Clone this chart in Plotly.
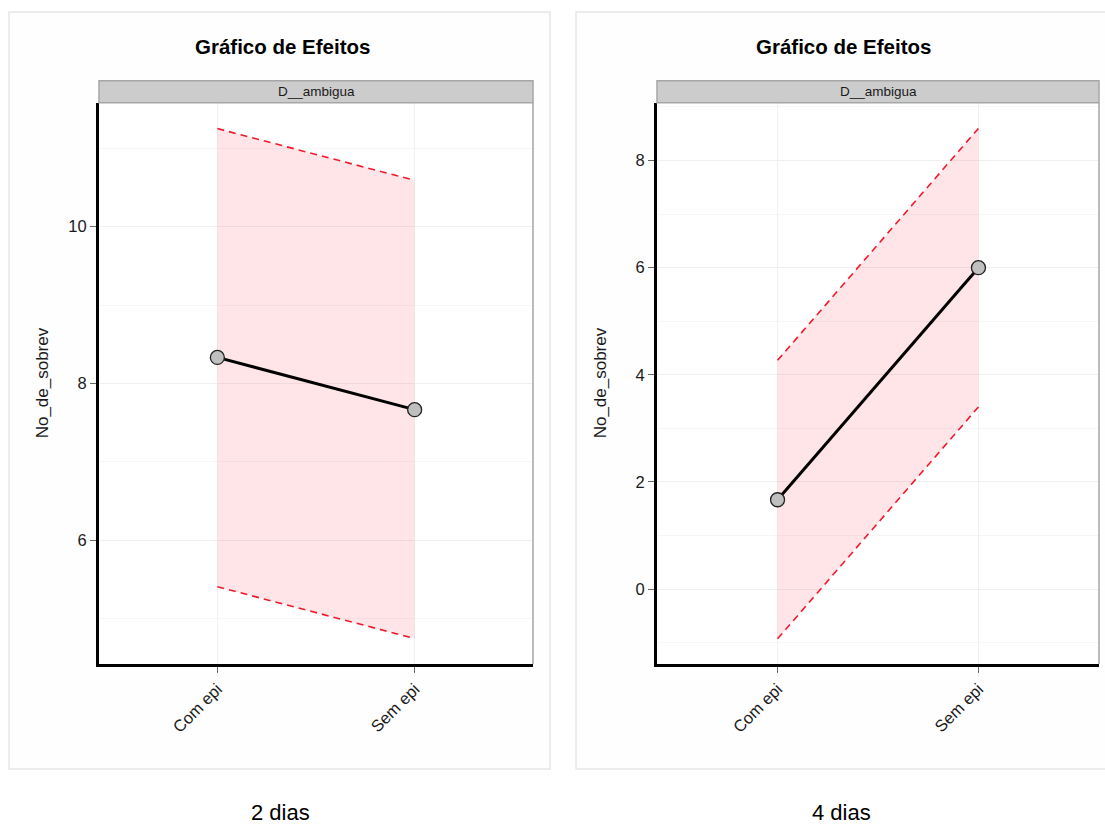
import plotly.graph_objects as go

# Effect estimates with confidence bands for each period
categories = ["Com epi", "Sem epi"]

fit_2dias = [8.333, 7.667]
lower_2dias = [5.41, 4.75]
upper_2dias = [11.25, 10.59]

fit_4dias = [1.667, 6.0]
lower_4dias = [-0.93, 3.40]
upper_4dias = [4.27, 8.60]

panel_titles = ["Gráfico de Efeitos", "Gráfico de Efeitos"]
strip_labels = ["D__ambigua", "D__ambigua"]
captions = ["2 dias", "4 dias"]
y_title = "No_de_sobrev"

W, H = 1105, 830
FONT = "Liberation Sans, Arial, sans-serif"


def fx(x):
    return x / W


def fy(y):
    return 1 - y / H


PLOT_TOP, PLOT_BOTTOM = 102.7, 664.0
STRIP_TOP = 80.7

panels = [
    dict(x0=99, x1=533, frame=(9, 550), yrange=[4.425, 11.58],
         fit=fit_2dias, lo=lower_2dias, hi=upper_2dias),
    dict(x0=657, x1=1099, frame=(576, 1115), yrange=[-1.40, 9.08],
         fit=fit_4dias, lo=lower_4dias, hi=upper_4dias),
]

fig = go.Figure()
shapes = []
annotations = []


def label(text, x, y, size, color="#1a1a1a", angle=0):
    return dict(text=text, xref="paper", yref="paper", x=x, y=y,
                xanchor="center", yanchor="middle", showarrow=False,
                textangle=angle, font=dict(family=FONT, size=size, color=color))


for i, p in enumerate(panels):
    xa = "x" if i == 0 else "x2"
    ya = "y" if i == 0 else "y2"

    # confidence band: dashed upper limit, dashed lower limit filled to it
    fig.add_trace(go.Scatter(
        x=categories, y=p["hi"], xaxis=xa, yaxis=ya, mode="lines",
        line=dict(color="#f2182c", width=1.6, dash="7px,5px"),
        showlegend=False, hoverinfo="skip"))
    fig.add_trace(go.Scatter(
        x=categories, y=p["lo"], xaxis=xa, yaxis=ya, mode="lines",
        line=dict(color="#f2182c", width=1.6, dash="7px,5px"),
        fill="tonexty", fillcolor="rgba(255,0,20,0.10)",
        showlegend=False, hoverinfo="skip"))
    # fitted effect
    fig.add_trace(go.Scatter(
        x=categories, y=p["fit"], xaxis=xa, yaxis=ya, mode="lines+markers",
        line=dict(color="black", width=3),
        marker=dict(size=14, color="#bfbfbf", line=dict(color="#222222", width=1.3)),
        showlegend=False))

    # outer frame around each chart
    f0, f1 = p["frame"]
    shapes.append(dict(type="rect", xref="paper", yref="paper", layer="below",
                       x0=fx(f0), x1=fx(f1), y0=fy(769), y1=fy(12),
                       line=dict(color="#e6e6e6", width=1.5), fillcolor="#fefefe"))
    # white plotting region
    shapes.append(dict(type="rect", xref="paper", yref="paper", layer="below",
                       x0=fx(p["x0"]), x1=fx(p["x1"]), y0=fy(PLOT_BOTTOM), y1=fy(PLOT_TOP),
                       line=dict(width=0), fillcolor="white"))
    # facet strip
    shapes.append(dict(type="rect", xref="paper", yref="paper",
                       x0=fx(p["x0"]), x1=fx(p["x1"]), y0=fy(PLOT_TOP), y1=fy(STRIP_TOP),
                       line=dict(color="#a6a6a6", width=1.5), fillcolor="#cccccc"))
    # right border of the panel
    shapes.append(dict(type="line", xref="paper", yref="paper",
                       x0=fx(p["x1"]), x1=fx(p["x1"]), y0=fy(PLOT_BOTTOM), y1=fy(PLOT_TOP),
                       line=dict(color="#a6a6a6", width=1.5)))

    cx = (p["x0"] + p["x1"]) / 2
    frame_cx = (f0 + min(f1, W)) / 2
    annotations.append(label(f"<b>{panel_titles[i]}</b>", fx(frame_cx + 3), fy(46), 20.5, "black"))
    annotations.append(label(strip_labels[i], fx(cx), fy((STRIP_TOP + PLOT_TOP) / 2), 13.5))
    annotations.append(label(y_title, fx(p["x0"] - 57), fy((PLOT_TOP + PLOT_BOTTOM) / 2),
                             17, angle=-90))
    annotations.append(label(captions[i], fx(frame_cx + 1), fy(812), 22, "black"))

axis_common = dict(showline=True, linecolor="black", linewidth=3,
                   ticks="outside", ticklen=6, tickwidth=1, tickcolor="#666666",
                   gridcolor="#f0f0f0", gridwidth=1, zeroline=False,
                   tickfont=dict(family=FONT, size=16.5, color="#1a1a1a"))

layout = dict(
    width=W, height=H, margin=dict(l=0, r=0, t=0, b=0),
    paper_bgcolor="white", plot_bgcolor="rgba(0,0,0,0)",
    shapes=shapes, annotations=annotations, showlegend=False,
)
for i, p in enumerate(panels):
    sx = "" if i == 0 else "2"
    layout["xaxis" + sx] = dict(
        axis_common, domain=[fx(p["x0"]), fx(p["x1"])], anchor="y" + sx,
        type="category", range=[-0.6, 1.6], tickangle=-45, showgrid=True)
    layout["yaxis" + sx] = dict(
        axis_common, domain=[fy(PLOT_BOTTOM), fy(PLOT_TOP)], anchor="x" + sx,
        range=p["yrange"], tick0=0, dtick=2, showgrid=True,
        minor=dict(dtick=1, showgrid=True, gridcolor="#f6f6f6", ticks=""))

fig.update_layout(**layout)
fig.write_html("out.html")
